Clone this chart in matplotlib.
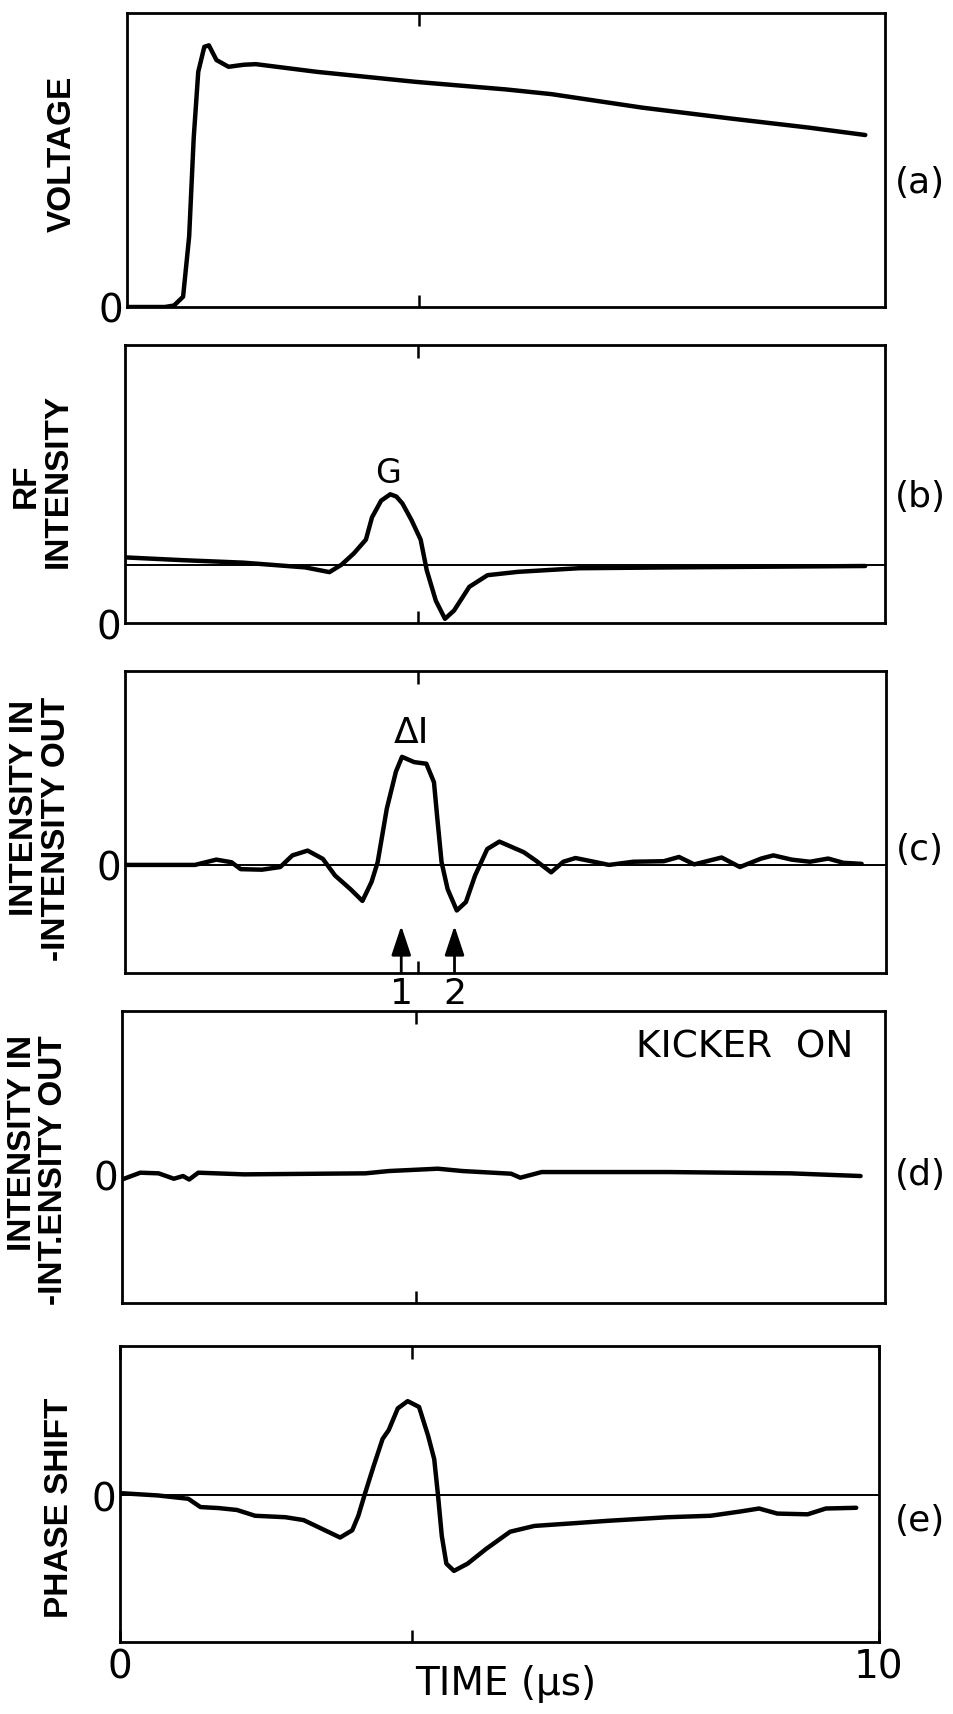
import matplotlib
matplotlib.use("Agg")
from matplotlib import pyplot as plt

# ---- data (time in microseconds, arbitrary y units) ----
a_t = [0, 0.5, 0.62, 0.74, 0.82, 0.88, 0.94, 1.02, 1.08, 1.18, 1.34, 1.54, 1.70, 2.5, 3.8, 5.0, 5.6, 6.8, 8.0, 9.0, 9.74]
a_v = [0, 0, 0.005, 0.035, 0.24, 0.575, 0.80, 0.885, 0.89, 0.84, 0.817, 0.824, 0.826, 0.80, 0.766, 0.74, 0.724, 0.678, 0.64, 0.61, 0.585]

b_t = [0, 0.76, 1.56, 2.37, 2.69, 2.85, 3.01, 3.17, 3.25, 3.37, 3.49, 3.57, 3.65, 3.77, 3.89, 3.97, 4.09, 4.21, 4.33, 4.53, 4.77, 5.17, 5.97, 7.18, 9.74]
b_v = [0.236, 0.226, 0.217, 0.20, 0.183, 0.21, 0.25, 0.30, 0.38, 0.44, 0.463, 0.455, 0.43, 0.37, 0.30, 0.19, 0.08, 0.015, 0.045, 0.13, 0.172, 0.184, 0.197, 0.20, 0.205]
b_ref = 0.21

c_t = [0, 0.92, 1.2, 1.4, 1.52, 1.8, 2.04, 2.2, 2.4, 2.6, 2.76, 2.96, 3.12, 3.24, 3.32, 3.44, 3.56, 3.64, 3.8, 3.96,
       4.06, 4.1, 4.16, 4.24, 4.36, 4.48, 4.6, 4.76, 4.92, 5.08, 5.24, 5.4, 5.6, 5.76, 5.92, 6.16, 6.36, 6.68, 7.08,
       7.28, 7.48, 7.84, 8.08, 8.36, 8.52, 8.76, 9.0, 9.24, 9.44, 9.68]
c_v = [0, 0, 0.05, 0.025, -0.04, -0.045, -0.02, 0.09, 0.135, 0.057, -0.1, -0.227, -0.34, -0.16, 0.025, 0.53, 0.88, 1.02, 0.97, 0.955,
       0.78, 0.47, 0.025, -0.23, -0.43, -0.35, -0.1, 0.15, 0.22, 0.17, 0.12, 0.04, -0.07, 0.03, 0.065, 0.03, 0.0, 0.03, 0.035,
       0.075, 0.005, 0.07, -0.02, 0.06, 0.09, 0.05, 0.03, 0.06, 0.02, 0.01]

d_t = [0, 0.24, 0.48, 0.68, 0.8, 0.88, 1.0, 1.6, 3.19, 3.5, 4.14, 4.46, 5.1, 5.22, 5.5, 7.17, 8.76, 9.68]
d_v = [-0.04, 0.013, 0.008, -0.034, -0.013, -0.04, 0.013, 0, 0.008, 0.026, 0.044, 0.026, 0.005, -0.026, 0.018, 0.018, 0.008, -0.013]

e_t = [0, 0.5, 0.9, 1.06, 1.3, 1.54, 1.78, 2.18, 2.42, 2.66, 2.9, 3.06, 3.14, 3.22, 3.34, 3.46, 3.54, 3.66, 3.79, 3.94,
       4.06, 4.14, 4.19, 4.24, 4.3, 4.4, 4.58, 4.82, 5.14, 5.46, 6.02, 6.42, 7.22, 7.78, 8.18, 8.42, 8.66, 9.06, 9.3, 9.7]
e_v = [0.016, 0, -0.023, -0.08, -0.087, -0.1, -0.14, -0.15, -0.17, -0.23, -0.29, -0.24, -0.14, 0, 0.2, 0.39, 0.45, 0.6, 0.65, 0.61,
       0.41, 0.25, 0, -0.28, -0.47, -0.52, -0.47, -0.37, -0.25, -0.21, -0.19, -0.175, -0.15, -0.14, -0.11, -0.09, -0.125, -0.13, -0.09, -0.085]

arrow_t = [3.63, 4.33]
arrow_lbl = ["1", "2"]

W, H = 954, 1715
# panel boxes in pixels: left, right, top, bottom
boxes = [(127, 885, 14, 308), (125, 885, 346, 624), (125, 886, 672, 974), (122, 885, 1012, 1304), (120, 879, 1347, 1643)]
ylims = [(0, 1), (0, 1), (-1.02, 1.83), (-1.0, 1.27), (-1.01, 1.03)]
tags = ["(a)", "(b)", "(c)", "(d)", "(e)"]
tag_y = [183, 497, 850, 1175, 1521]
# y-axis titles, one entry per line: (text, x px, y px)
ylabel_lines = [
    [("VOLTAGE", 62, 154)],
    [("RF", 26, 486), ("INTENSITY", 58, 481)],
    [("INTENSITY IN", 25, 808), ("-INTENSITY OUT", 57, 829)],
    [("INTENSITY IN", 23, 1143), ("-INT.ENSITY OUT", 54, 1170)],
    [("PHASE SHIFT", 60, 1508)],
]

bold_font = ["Liberation Sans", "DejaVu Sans"]
plain_font = ["DejaVu Sans"]

fig = plt.figure(figsize=(W / 100, H / 100), dpi=100)
curves = [(a_t, a_v), (b_t, b_v), (c_t, c_v), (d_t, d_v), (e_t, e_v)]
axes = []
for i, (l, r, t, b) in enumerate(boxes):
    ax = fig.add_axes([l / W, 1 - b / H, (r - l) / W, (b - t) / H])
    ax.set_xlim(0, 10)
    ax.set_ylim(*ylims[i])
    for s in ax.spines.values():
        s.set_linewidth(2.0)
    ax.plot(curves[i][0], curves[i][1], color="black", lw=3.2, solid_joinstyle="round", solid_capstyle="round")
    ax.set_yticks([0])
    ax.set_yticklabels(["0"], fontsize=28, family=plain_font)
    ax.tick_params(axis="y", length=0, pad=3)
    if i == 4:
        ax.set_xticks([0, 3.85, 10])
        ax.set_xticklabels(["0", "", "10"], fontsize=28, family=plain_font)
    else:
        ax.set_xticks([3.85])
        ax.set_xticklabels([""])
    ax.tick_params(axis="x", direction="in", length=9, width=1.8, top=True, pad=4)
    fig.text(920 / W, 1 - tag_y[i] / H, tags[i], fontsize=26, family=plain_font, ha="center", va="center")
    for txt, x, y in ylabel_lines[i]:
        fig.text(x / W, 1 - y / H, txt, rotation=90, fontsize=24, family=bold_font, weight="bold",
                 ha="center", va="center")
    axes.append(ax)

# reference levels
axes[1].axhline(b_ref, color="black", lw=1.4)
axes[2].axhline(0, color="black", lw=1.4)
axes[4].axhline(0, color="black", lw=1.4)

axes[1].text(3.46, 0.54, "G", fontsize=24, family=plain_font, ha="center", va="center")
axes[2].text(3.77, 1.25, "ΔI", fontsize=26, family=plain_font, ha="center", va="center")
for t, lbl in zip(arrow_t, arrow_lbl):
    axes[2].annotate("", xy=(t, -0.575), xytext=(t, ylims[2][0]),
                     arrowprops=dict(arrowstyle="-|>,head_length=0.9,head_width=0.3", color="black", lw=2.0,
                                     mutation_scale=20, shrinkA=0, shrinkB=0))
    axes[2].text(t, ylims[2][0] - 0.03, lbl, fontsize=26, family=plain_font, ha="center", va="top")

axes[3].text(0.958, 0.877, "KICKER  ON", fontsize=27, family=plain_font, ha="right", va="center",
             transform=axes[3].transAxes)

fig.text(506 / W, 1 - 1684 / H, "TIME (μs)", fontsize=28, family=plain_font, ha="center", va="center")

plt.savefig("out.png", dpi=100)
